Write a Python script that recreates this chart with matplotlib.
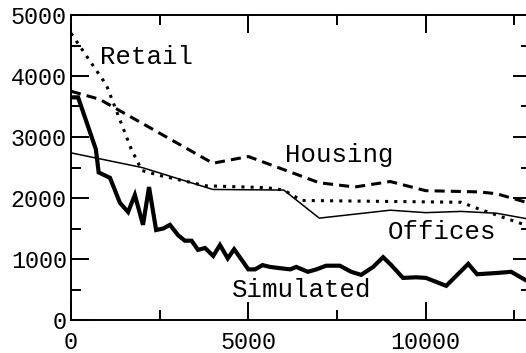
import matplotlib
matplotlib.use("Agg")
import matplotlib.pyplot as plt
from matplotlib.ticker import MultipleLocator

# ---- data ----
sim_x = [0, 200, 700, 780, 1100, 1380, 1610, 1800, 2030, 2200, 2400, 2600, 2790,
         3020, 3210, 3400, 3580, 3780, 4010, 4200, 4420, 4600, 4820, 5000, 5190,
         5400, 5610, 5890, 6180, 6350, 6680, 6920, 7190, 7580, 7900, 8180, 8520,
         8800, 9030, 9360, 9730, 10010, 10580, 11200, 11450, 11990, 12410, 12950]
sim_y = [3650, 3650, 2800, 2420, 2330, 1920, 1770, 2050, 1560, 2180, 1475, 1500, 1560,
         1390, 1300, 1300, 1150, 1180, 1050, 1230, 1010, 1160, 980, 830, 830,
         900, 870, 850, 830, 870, 790, 830, 890, 890, 790, 740, 870,
         1030, 900, 690, 700, 690, 560, 920, 750, 770, 790, 610]

off_x = [0, 2000, 4000, 6000, 7000, 9000, 10000, 11000, 12000, 12950]
off_y = [2740, 2500, 2140, 2130, 1670, 1800, 1760, 1780, 1750, 1650]

ret_x = [0, 1000, 1700, 2000, 2500, 3800, 5500, 6000, 6500, 11000, 11500, 12950]
ret_y = [4700, 3850, 2800, 2450, 2370, 2200, 2170, 2130, 1960, 1930, 1820, 1530]

hou_x = [0, 800, 4000, 5000, 7000, 8000, 9000, 10000, 11500, 12000, 12950]
hou_y = [3750, 3620, 2570, 2680, 2250, 2180, 2270, 2120, 2100, 2070, 1910]

labels = ["Retail", "Housing", "Offices", "Simulated"]
label_x = [820, 6035, 8940, 4540]
label_y = [4310, 2700, 1440, 490]

font = "Liberation Mono"

fig = plt.figure(figsize=(5.26, 3.53), dpi=100)
ax = fig.add_axes([71/526, 33/353, 460/526, 305/353])

ax.plot(sim_x, sim_y, color="black", lw=3.0, solid_joinstyle="miter")
ax.plot(off_x, off_y, color="black", lw=1.1)
ax.plot(ret_x, ret_y, color="black", lw=2.2, linestyle=(0, (1, 2.0)))
ax.plot(hou_x, hou_y, color="black", lw=2.2, linestyle=(0, (3.3, 2.0)))

for t, x, y in zip(labels, label_x, label_y):
    ax.text(x, y, t, fontsize=18.5, family=font, ha="left", va="center")

ax.set_xlim(0, 12970)
ax.set_ylim(0, 5000)
ax.xaxis.set_major_locator(MultipleLocator(5000))
ax.xaxis.set_minor_locator(MultipleLocator(2500))
ax.yaxis.set_major_locator(MultipleLocator(1000))
ax.yaxis.set_minor_locator(MultipleLocator(500))
ax.tick_params(which="both", direction="in", top=True, right=True, width=1.4)
ax.tick_params(which="major", length=13)
ax.tick_params(which="minor", length=7.5)
ax.tick_params(axis="x", pad=8)
ax.tick_params(axis="y", pad=3)
for lab in ax.get_xticklabels() + ax.get_yticklabels():
    lab.set_family(font)
    lab.set_fontsize(16.8)
for s in ax.spines.values():
    s.set_linewidth(1.4)

fig.savefig("out.png", dpi=100)
